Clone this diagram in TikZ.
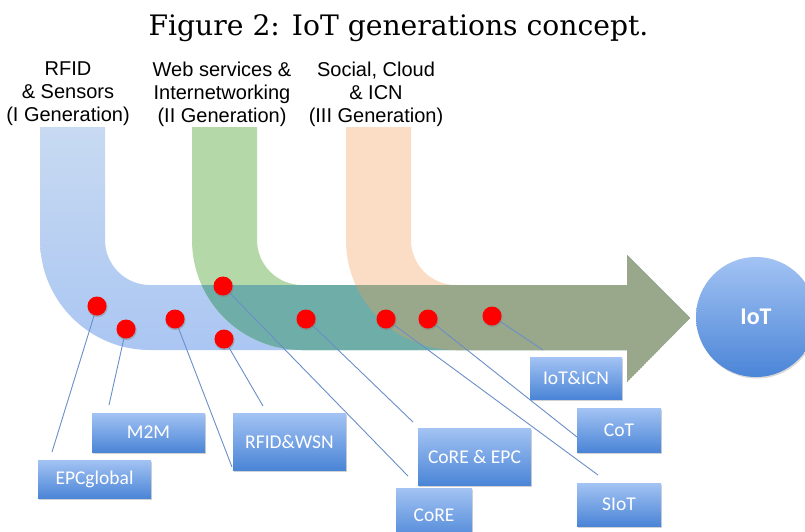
\documentclass[tikz,border=0pt]{standalone}
\usepackage{fontspec}
\newfontfamily\titlefont{DejaVu Serif}
\newfontfamily\genfont{Liberation Sans}
\newfontfamily\boxfont{Carlito}
\usetikzlibrary{shadows}

\definecolor{bandblue}{HTML}{A6C3F2}
\definecolor{bandbluetop}{HTML}{C8DAF2}
\definecolor{bandgreen}{HTML}{B5D8A9}
\definecolor{bandorange}{HTML}{FBDDC5}
\definecolor{bluegreen}{HTML}{6EADA8}
\definecolor{allthree}{HTML}{99A78B}
\definecolor{boxtop}{HTML}{A3C3F3}
\definecolor{boxbottom}{HTML}{4B85D7}
\definecolor{connblue}{HTML}{6A8FC8}
\definecolor{dotred}{HTML}{FF0000}

% the three bent generation arrows (outer edge, corner, shared shaft and head, inner edge)
\def\bluepath{(40,127) -- (40,240) .. controls (40,300.75) and (89.25,350) .. (150,350)
  -- (627,350) -- (627,382) -- (690,318) -- (627,255) -- (627,285) -- (150,285)
  .. controls (125.15,285) and (105,264.85) .. (105,240) -- (105,127) -- cycle}
\def\greenpath{(192,127) -- (192,240) .. controls (192,300.75) and (241.25,350) .. (302,350)
  -- (627,350) -- (627,382) -- (690,318) -- (627,255) -- (627,285) -- (302,285)
  .. controls (277.15,285) and (257,264.85) .. (257,240) -- (257,127) -- cycle}
\def\orangepath{(346,127) -- (346,240) .. controls (346,300.75) and (395.25,350) .. (456,350)
  -- (627,350) -- (627,382) -- (690,318) -- (627,255) -- (627,285) -- (456,285)
  .. controls (431.15,285) and (411,264.85) .. (411,240) -- (411,127) -- cycle}

\tikzset{
  genlabel/.style={font={\genfont\fontsize{20}{23}\selectfont}, align=center,
    anchor=north, inner sep=0pt},
  techbox/.style={rectangle, top color=boxtop, bottom color=boxbottom, text=white,
    font={\boxfont\fontsize{19.5}{22}\selectfont}, inner sep=0pt,
    drop shadow={opacity=0.35, shadow xshift=1pt, shadow yshift=-1.5pt}},
  reddot/.style={circle, fill=dotred, minimum size=19pt, inner sep=0pt,
    drop shadow={opacity=0.45, shadow xshift=0.5pt, shadow yshift=-1pt, shadow scale=1.06}},
  conn/.style={draw=connblue, line width=0.9pt},
}

\begin{document}
\begin{tikzpicture}[x=1pt, y=-1pt]
\useasboundingbox (0,0) rectangle (805,531);
\fill[white] (0,0) rectangle (805,531);

\node[font={\titlefont\fontsize{28.2}{32}\selectfont}, anchor=base, inner sep=0pt]
  (title) at (398.5,35) {Figure 2: IoT generations concept.};

% generation labels
\node[genlabel] (gen1) at (68,62) {RFID\\\& Sensors\\(I Generation)};
\node[genlabel] (gen2) at (222,62) {Web services \&\\Internetworking\\(II Generation)};
\node[genlabel] (gen3) at (376,62) {Social, Cloud\\\& ICN\\(III Generation)};

% bands
\shade[top color=bandbluetop, middle color=bandblue, bottom color=bandblue] \bluepath;
\fill[bandgreen] \greenpath;
\fill[bandorange] \orangepath;
\begin{scope}
  \clip \bluepath;
  \fill[bluegreen] \greenpath;
\end{scope}
\begin{scope}
  \clip \bluepath;
  \clip \greenpath;
  \fill[allthree] \orangepath;
\end{scope}

% IoT circle
\node[circle, minimum size=120pt, inner sep=0pt, top color=boxtop, bottom color=boxbottom,
  text=white, font={\boxfont\bfseries\fontsize{24}{28}\selectfont},
  drop shadow={opacity=0.3, shadow xshift=1pt, shadow yshift=-1.5pt}]
  (iot) at (756,317) {IoT};

% technology boxes
\node[techbox, minimum width=113pt, minimum height=39pt] (m2m) at (148.5,432.5) {M2M};
\node[techbox, minimum width=113pt, minimum height=38pt] (epc) at (94.5,479) {EPCglobal};
\node[techbox, minimum width=113pt, minimum height=57pt] (rfidwsn) at (289.5,441.5) {RFID\&WSN};
\node[techbox, minimum width=92pt, minimum height=42pt] (ioticn) at (576,378) {IoT\&ICN};
\node[techbox, minimum width=84pt, minimum height=44pt] (cot) at (619,430) {CoT};
\node[techbox, minimum width=113pt, minimum height=57pt] (coreepc) at (474.5,456.5) {CoRE \& EPC};
\node[techbox, minimum width=76pt, minimum height=54pt] (core) at (434,515) {CoRE};
\node[techbox, minimum width=84pt, minimum height=43pt] (siot) at (619,504.5) {SIoT};

% connector ends
\coordinate (e1) at (52,452);
\coordinate (e2) at (109,405);
\coordinate (e3) at (232,467);
\coordinate (e4) at (263,406);
\coordinate (e5) at (408,476);
\coordinate (e6) at (413,422);
\coordinate (e7) at (598,475);
\coordinate (e8) at (577,437);
\coordinate (e9) at (543,350);

% dot positions
\coordinate (p1) at (97,306);
\coordinate (p2) at (126,329);
\coordinate (p3) at (175,319);
\coordinate (p4) at (224,339);
\coordinate (p5) at (223,286);
\coordinate (p6) at (306,319);
\coordinate (p7) at (386,319);
\coordinate (p8) at (428,319);
\coordinate (p9) at (492,316);

\foreach \i in {1,...,9} \draw[conn] (p\i) -- (e\i);
\foreach \i in {1,...,9} \node[reddot] (d\i) at (p\i) {};
\end{tikzpicture}
\end{document}
